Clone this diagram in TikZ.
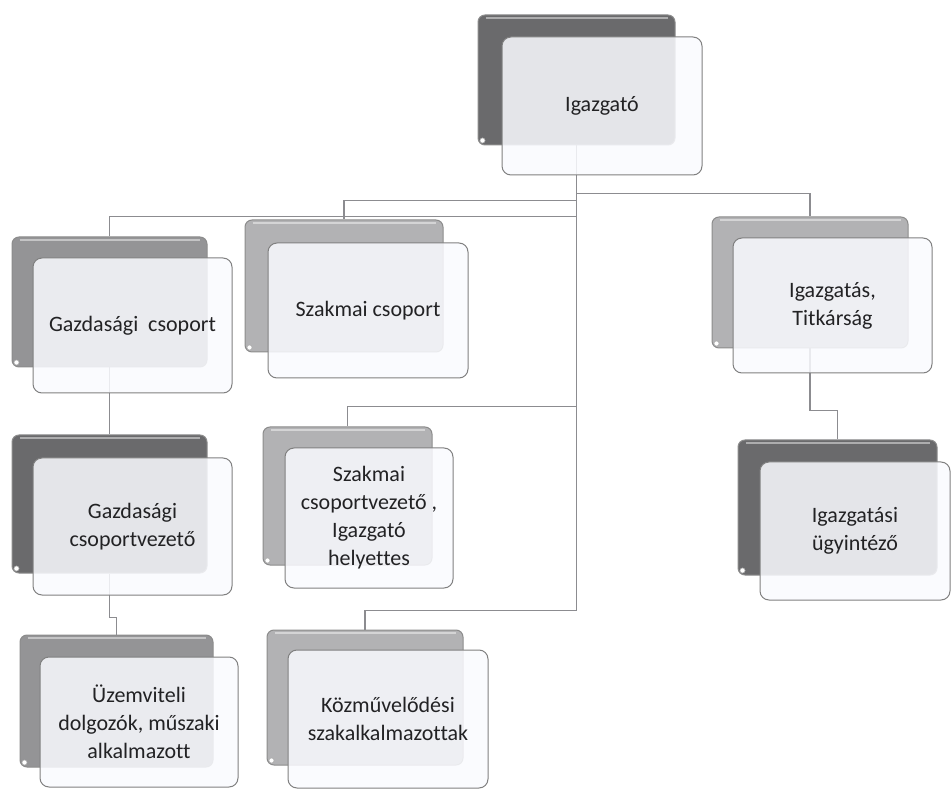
\documentclass[tikz,border=0pt]{standalone}
\usepackage{fontspec}
\setmainfont{Carlito}[Ligatures=NoCommon]
\usetikzlibrary{positioning, backgrounds}

\definecolor{linegray}{RGB}{140,140,144}
\definecolor{darkbk}{RGB}{106,106,108}
\definecolor{midbk}{RGB}{148,148,150}
\definecolor{lightbk}{RGB}{178,178,180}
\definecolor{frontfill}{RGB}{249,250,254}
\definecolor{textgray}{RGB}{34,34,36}

\begin{document}
\begin{tikzpicture}[x=1pt, y=-1pt, line width=1pt,
    back/.style = {rounded corners=7pt, inner sep=0pt, draw=black!45, minimum width=196, minimum height=132},
    front/.style = {rounded corners=9pt, draw=black!50, fill=frontfill, fill opacity=0.86, text opacity=1,
                    text=textgray, align=center, inner sep=0pt, minimum width=200, minimum height=136,
                    font=\fontsize{22}{28}\selectfont}]
    \tikzstyle{darkback} = [back, fill=darkbk]
    \tikzstyle{midback} = [back, fill=midbk]
    \tikzstyle{lightback} = [back, fill=lightbk]
    \tikzstyle{link} = [draw=linegray, line width=1.1pt]

    \useasboundingbox (0,0) rectangle (951,791);

    % Back cards (grey)
    \node[darkback, minimum width=197, minimum height=130] (igb) at (576.5,80) {};
    \node[midback, minimum width=195, minimum height=130] (gcb) at (109.5,302) {};
    \node[lightback, minimum width=198] (szb) at (344,286) {};
    \node[lightback, minimum height=131] (itb) at (810,282.5) {};
    \node[darkback, minimum width=195, minimum height=138] (gcvb) at (109.5,504) {};
    \node[lightback, minimum width=169, minimum height=138] (scvb) at (347.5,496) {};
    \node[darkback, minimum width=199, minimum height=135] (iub) at (837.5,507.5) {};
    \node[midback, minimum width=193] (uzb) at (116.5,701) {};
    \node[lightback, minimum height=135] (kob) at (365,697.5) {};

    % light edge on top and small dot in the lower left corner of each back card
    \foreach \b in {igb, gcb, szb, itb, gcvb, scvb, iub, uzb, kob} {
        \draw[white, opacity=0.45, line width=2pt] ([shift={(8,3.5)}]\b.north west) -- ([shift={(-8,3.5)}]\b.north east);
        \filldraw[fill=white, draw=black!35, line width=0.5pt] ([shift={(5,-5)}]\b.south west) circle (2.6);
    }

    % Front cards (text)
    \node[front, minimum height=138] (igf) at (602,106) {Igazgató};
    \node[front, minimum width=199, minimum height=135] (gcf) at (132.5,325.5) {Gazdasági\ \ csoport};
    \node[front, minimum height=135] (szf) at (368,310.5) {Szakmai csoport};
    \node[front, minimum width=199, minimum height=135] (itf) at (832.5,305.5) {Igazgatás,\\Titkárság};
    \node[front, minimum width=199, minimum height=137] (gcvf) at (132.5,526.5) {Gazdasági\\csoportvezető};
    \node[front, minimum width=168, minimum height=140] (scvf) at (369,518) {Szakmai\\csoportvezető ,\\Igazgató\\helyettes};
    \node[front, minimum width=190, minimum height=138] (iuf) at (855,531) {Igazgatási\\ügyintéző};
    \node[front, minimum width=198, minimum height=130] (uzf) at (139,722) {Üzemviteli\\dolgozók, műszaki\\alkalmazott};
    \node[front, minimum height=138] (kof) at (388,719) {Közművelődési\\szakalkalmazottak};

    % Connectors (behind the cards)
    \begin{scope}[on background layer]
        \draw[link] (igb.south) -- ++(0,48) -| (itb.north);
        \draw[link] (igb.south) -- ++(0,55) -| (szb.north);
        \draw[link] (igb.south) -- ++(0,71) -| (gcb.north);
        \draw[link] (igb.south) -- ++(0,261) -| (scvb.north);
        \draw[link] (igb.south) -- ++(0,465) -| (kob.north);
        \draw[link] (gcb.south) -- (gcvb.north);
        \draw[link] (gcvb.south) -- ++(0,44) -| (uzb.north);
        \draw[link] (itb.south) -- ++(0,62) -| (iub.north);
    \end{scope}
\end{tikzpicture}
\end{document}
